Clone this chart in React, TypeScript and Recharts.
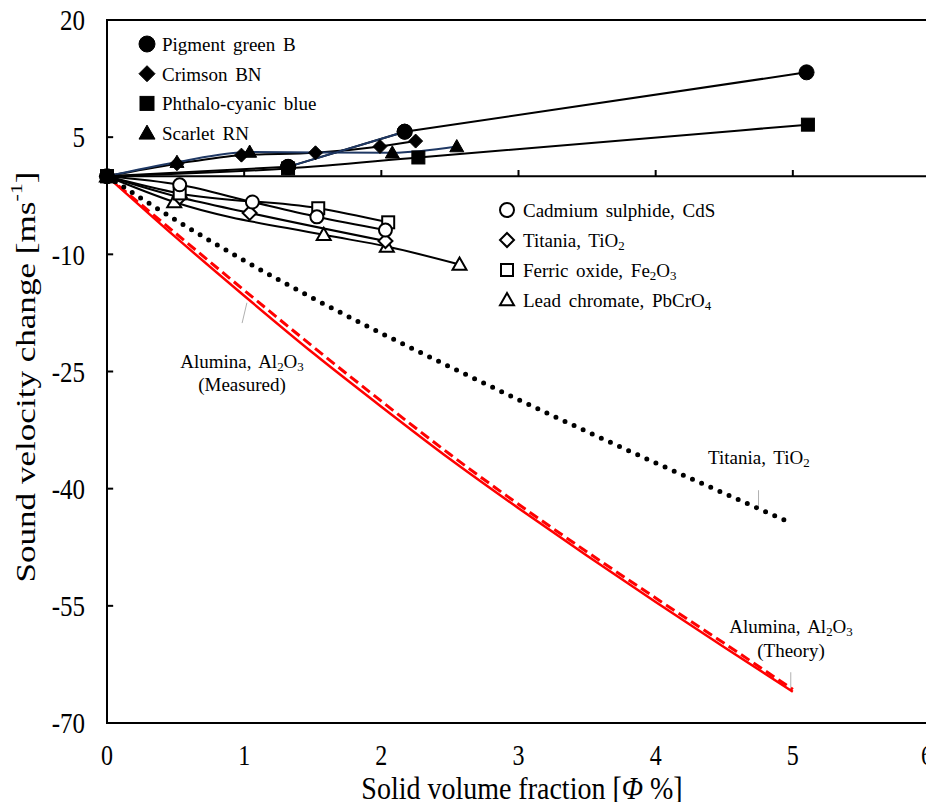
import { LineChart, Line, XAxis, YAxis, ReferenceLine, ReferenceArea } from "recharts";

const SERIF = '"Liberation Serif", "Times New Roman", serif';
const BLUE = "#1f3864";
const RED = "#ff0000";

const X_TICKS = [0, 1, 2, 3, 4, 5, 6];
const Y_TICKS = [-70, -55, -40, -25, -10, 5, 20];

// organic pigments (filled markers)
const pigmentGreenX = [0, 1.32, 2.17, 5.1];
const pigmentGreenY = [0, 1.2, 5.7, 13.3];
const crimsonX = [0, 0.51, 0.98, 1.52, 1.99, 2.25];
const crimsonY = [0, 1.6, 2.7, 3.0, 3.8, 4.5];
const phthaloX = [0, 1.32, 2.27, 5.11];
const phthaloY = [0, 1.0, 2.4, 6.6];
const scarletX = [0, 0.51, 1.04, 2.08, 2.55];
const scarletY = [0, 1.8, 3.1, 3.0, 3.8];

// inorganic pigments (open markers)
const cadmiumX = [0, 0.53, 1.06, 1.53, 2.03];
const cadmiumY = [0, -1.1, -3.3, -5.2, -6.9];
const titaniaX = [0, 0.53, 1.04, 2.03];
const titaniaY = [0, -2.7, -4.7, -8.3];
const ferricX = [0, 0.53, 1.54, 2.05];
const ferricY = [0, -2.2, -4.1, -5.9];
const leadX = [0, 0.49, 1.58, 2.04, 2.57];
const leadY = [0, -3.3, -7.5, -9.0, -11.3];

// continuous curves, sampled every 0.5 %
const curvePhi = [0, 0.5, 1, 1.5, 2, 2.5, 3, 3.5, 4, 4.5, 5];
const aluminaMeasured = [0, -7.8, -15.3, -22.6, -29.5, -36.2, -42.5, -48.6, -54.5, -60.3, -66.0];
const aluminaTheory = [0, -7.3, -14.6, -21.8, -28.8, -35.6, -42.0, -48.1, -54.0, -59.8, -65.7];
const titaniaTheory = [0, -5.6, -10.8, -15.6, -20.1, -24.4, -28.6, -32.7, -36.7, -40.6, -44.5];

const toPoints = (xs: number[], ys: number[]) => xs.map((x, i) => ({ x, y: ys[i] }));

type Shape = "circle" | "diamond" | "square" | "triangle";

const FS = 19;
const W = 926;
const H = 794;

const Marker = ({ cx, cy, shape, filled, s }: { cx: number; cy: number; shape: Shape; filled: boolean; s: number }) => {
  const fill = filled ? "#000" : "#fff";
  const common = { fill, stroke: "#000", strokeWidth: filled ? 1 : 2 };
  if (shape === "circle") return <circle cx={cx} cy={cy} r={s} {...common} />;
  if (shape === "square") return <rect x={cx - s} y={cy - s} width={s * 2} height={s * 2} {...common} />;
  if (shape === "diamond")
    return <polygon points={`${cx},${cy - s} ${cx + s},${cy} ${cx},${cy + s} ${cx - s},${cy}`} {...common} />;
  return <polygon points={`${cx},${cy - s} ${cx + s},${cy + s * 0.75} ${cx - s},${cy + s * 0.75}`} {...common} />;
};

const dotOf = (id: string, shape: Shape, filled: boolean, s: number) => (p: any) => (
  <Marker key={`${id}-${p.index}`} cx={p.cx} cy={p.cy} shape={shape} filled={filled} s={s} />
);

// tick labels, slightly tall like the rest of the lettering;
// the last x label is kept inside the page edge
const XTick = ({ x, y, payload }: any) => (
  <text
    transform={`translate(${Math.min(x, W - 7)} ${y + 10}) scale(1 1.2)`}
    textAnchor="middle"
    dominantBaseline="central"
    fontFamily={SERIF}
    fontSize={24}
    fill="#000"
  >
    {payload.value}
  </text>
);

const YTick = ({ x, y, payload }: any) => (
  <text
    transform={`translate(${x} ${y}) scale(1 1.2)`}
    textAnchor="end"
    dominantBaseline="central"
    fontFamily={SERIF}
    fontSize={25}
    fill="#000"
  >
    {payload.value}
  </text>
);

// text with chemical subscripts: parts alternate normal / subscript
const Chem = ({ parts, size }: { parts: [string, boolean][]; size: number }) => (
  <>
    {parts.map(([t, sub], i) =>
      sub ? (
        <tspan key={i} fontSize={size * 0.68} dy={size * 0.25}>
          {t}
        </tspan>
      ) : (
        <tspan key={i} dy={i > 0 && parts[i - 1][1] ? -size * 0.25 : 0}>
          {t}
        </tspan>
      )
    )}
  </>
);

const filledLegend: { label: [string, boolean][]; shape: Shape }[] = [
  { label: [["Pigment green B", false]], shape: "circle" },
  { label: [["Crimson BN", false]], shape: "diamond" },
  { label: [["Phthalo-cyanic blue", false]], shape: "square" },
  { label: [["Scarlet RN", false]], shape: "triangle" },
];

const openLegend: { label: [string, boolean][]; shape: Shape }[] = [
  { label: [["Cadmium sulphide, CdS", false]], shape: "circle" },
  { label: [["Titania, TiO", false], ["2", true]], shape: "diamond" },
  { label: [["Ferric oxide, Fe", false], ["2", true], ["O", false], ["3", true]], shape: "square" },
  { label: [["Lead chromate, PbCrO", false], ["4", true]], shape: "triangle" },
];

const alumina: [string, boolean][] = [["Alumina, Al", false], ["2", true], ["O", false], ["3", true]];

const Overlay = () => (
  <svg width={W} height={H} style={{ position: "absolute", left: 0, top: 0, pointerEvents: "none", overflow: "visible" }}>
    <g fontFamily={SERIF} fontSize={FS} fill="#000" style={{ wordSpacing: 3 }}>
      {filledLegend.map((it, i) => (
        <g key={`fl-${i}`}>
          <Marker cx={139} cy={36 + i * 29.7} shape={it.shape} filled s={it.shape === "square" ? 7 : 8} />
          <text x={154} y={36 + i * 29.7} dominantBaseline="central">
            <Chem parts={it.label} size={FS} />
          </text>
        </g>
      ))}
      {openLegend.map((it, i) => (
        <g key={`ol-${i}`}>
          <Marker cx={499} cy={202 + i * 30} shape={it.shape} filled={false} s={it.shape === "square" ? 6 : 7} />
          <text x={515} y={202 + i * 30} dominantBaseline="central">
            <Chem parts={it.label} size={FS} />
          </text>
        </g>
      ))}
      <text x={234} y={353} textAnchor="middle" dominantBaseline="central">
        <Chem parts={alumina} size={FS} />
      </text>
      <text x={234} y={376} textAnchor="middle" dominantBaseline="central">
        (Measured)
      </text>
      <text x={700} y={449} dominantBaseline="central">
        <Chem parts={[["Titania, TiO", false], ["2", true]]} size={FS} />
      </text>
      <text x={783} y={618} textAnchor="middle" dominantBaseline="central">
        <Chem parts={alumina} size={FS} />
      </text>
      <text x={783} y={642} textAnchor="middle" dominantBaseline="central">
        (Theory)
      </text>
    </g>
    {/* y title is drawn a bit elongated along its baseline */}
    <text
      x={0}
      y={0}
      fontFamily={SERIF}
      fontSize={27}
      textAnchor="middle"
      dominantBaseline="central"
      transform="translate(18 369) rotate(-90) scale(1.3 1)"
    >
      Sound velocity change [ms
      <tspan fontSize={17} dy={-10}>-1</tspan>
      <tspan dy={10}>]</tspan>
    </text>
    <text
      x={0}
      y={0}
      fontFamily={SERIF}
      fontSize={28}
      textAnchor="middle"
      dominantBaseline="central"
      transform="translate(514 780) scale(1 1.15)"
    >
      Solid volume fraction [<tspan fontStyle="italic">Φ</tspan> %]
    </text>
  </svg>
);

const lineBase = { type: "monotone" as const, isAnimationActive: false, activeDot: false, legendType: "none" as const };

export default function App() {
  return (
    <div style={{ position: "relative", width: W, height: H, background: "#fff" }}>
      <style>{".recharts-wrapper, .recharts-surface { overflow: visible !important; }"}</style>
      <LineChart width={W} height={H} margin={{ top: 12, right: 4, left: 39, bottom: 4 }}>
        <XAxis
          dataKey="x"
          type="number"
          domain={[0, 6]}
          ticks={X_TICKS}
          tickLine={false}
          axisLine={false}
          tickSize={0}
          tickMargin={22}
          height={75}
          tick={<XTick />}
        />
        <YAxis
          type="number"
          domain={[-70, 20]}
          ticks={Y_TICKS}
          tickLine={false}
          axisLine={false}
          tickSize={0}
          tickMargin={22}
          width={60}
          tick={<YTick />}
        />
        <ReferenceArea x1={0} x2={6} y1={-70} y2={20} fill="none" stroke="#000" strokeWidth={2} />
        <ReferenceLine y={0} stroke="#000" strokeWidth={2} />
        {X_TICKS.slice(1, -1).map((t) => (
          <ReferenceLine key={`xt-${t}`} segment={[{ x: t, y: 0 }, { x: t, y: 0.8 }]} stroke="#000" strokeWidth={2} />
        ))}
        {Y_TICKS.slice(1, -1).map((t) => (
          <ReferenceLine key={`yt-${t}`} segment={[{ x: 0, y: t }, { x: 0.045, y: t }]} stroke="#000" strokeWidth={2} />
        ))}
        {/* leader lines for the curve annotations */}
        <ReferenceLine segment={[{ x: 0.985, y: -18.8 }, { x: 1.02, y: -16.2 }]} stroke="#b0b0b0" strokeWidth={1} />
        <ReferenceLine segment={[{ x: 4.75, y: -40.2 }, { x: 4.75, y: -42.6 }]} stroke="#b0b0b0" strokeWidth={1} />
        <ReferenceLine segment={[{ x: 4.985, y: -63.5 }, { x: 4.985, y: -65.8 }]} stroke="#b0b0b0" strokeWidth={1} />

        <Line {...lineBase} data={toPoints(curvePhi, aluminaMeasured)} dataKey="y" stroke={RED} strokeWidth={2.5} dot={false} />
        <Line {...lineBase} data={toPoints(curvePhi, aluminaTheory)} dataKey="y" stroke={RED} strokeWidth={3} strokeDasharray="10 5" dot={false} />
        <Line
          {...lineBase}
          data={toPoints(curvePhi, titaniaTheory)}
          dataKey="y"
          stroke="#000"
          strokeWidth={5}
          strokeDasharray="0 10"
          strokeLinecap="round"
          dot={false}
        />

        <Line {...lineBase} data={toPoints(leadX, leadY)} dataKey="y" stroke="#000" strokeWidth={2} dot={dotOf("lead", "triangle", false, 7)} />
        <Line {...lineBase} data={toPoints(titaniaX, titaniaY)} dataKey="y" stroke="#000" strokeWidth={2} dot={dotOf("tio2", "diamond", false, 7)} />
        <Line {...lineBase} data={toPoints(ferricX, ferricY)} dataKey="y" stroke="#000" strokeWidth={2} dot={dotOf("fe", "square", false, 6)} />
        <Line {...lineBase} data={toPoints(cadmiumX, cadmiumY)} dataKey="y" stroke="#000" strokeWidth={2} dot={dotOf("cds", "circle", false, 6.5)} />

        <Line {...lineBase} data={toPoints(phthaloX, phthaloY)} dataKey="y" stroke="#000" strokeWidth={2} dot={dotOf("pb", "square", true, 6.5)} />
        <Line {...lineBase} data={toPoints(crimsonX, crimsonY)} dataKey="y" stroke="#000" strokeWidth={2} dot={dotOf("cbn", "diamond", true, 7)} />
        <Line {...lineBase} data={toPoints(scarletX, scarletY)} dataKey="y" stroke={BLUE} strokeWidth={2} dot={dotOf("srn", "triangle", true, 7)} />
        <Line {...lineBase} type="linear" data={toPoints(pigmentGreenX, pigmentGreenY)} dataKey="y" stroke="#000" strokeWidth={2} dot={dotOf("pgb", "circle", true, 7.5)} />
        <Line {...lineBase} data={toPoints(pigmentGreenX, pigmentGreenY).slice(1, 3)} dataKey="y" stroke={BLUE} strokeWidth={2} dot={dotOf("pgb2", "circle", true, 7.5)} />
      </LineChart>
      <Overlay />
    </div>
  );
}
